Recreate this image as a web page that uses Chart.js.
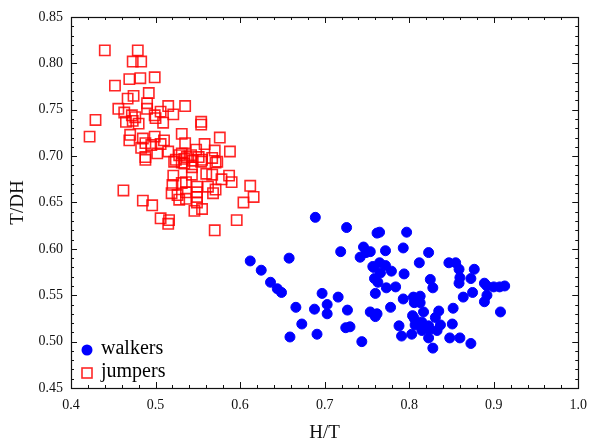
<!DOCTYPE html>
<html>
<head>
<meta charset="utf-8">
<script src="https://cdn.jsdelivr.net/npm/chart.js@4.4.1/dist/chart.umd.min.js"></script>
<style>
    body { margin: 0; background: #fff; }
    #wrap { width: 596px; height: 440px; }
</style>
</head>
<body>
<div id="wrap"><canvas id="scatterChart"></canvas></div>
<script>
// walkers (blue dots)
var walkers_x = [0.689, 0.726, 0.762, 0.765, 0.612, 0.658, 0.625, 0.636, 0.644, 0.649,
    0.719, 0.746, 0.742, 0.749, 0.754, 0.772, 0.765, 0.772, 0.758, 0.766,
    0.759, 0.763, 0.773, 0.760, 0.697, 0.716, 0.703, 0.666, 0.688, 0.703,
    0.727, 0.754, 0.762, 0.760, 0.673, 0.725, 0.730, 0.659, 0.691, 0.744,
    0.797, 0.793, 0.823, 0.812, 0.779, 0.794, 0.847, 0.855, 0.859, 0.877,
    0.860, 0.859, 0.873, 0.825, 0.828, 0.784, 0.889, 0.892, 0.900, 0.907,
    0.913, 0.864, 0.875, 0.892, 0.889, 0.793, 0.778, 0.805, 0.813, 0.806,
    0.813, 0.817, 0.835, 0.852, 0.908, 0.804, 0.806, 0.831, 0.815, 0.807,
    0.788, 0.823, 0.837, 0.851, 0.815, 0.824, 0.833, 0.791, 0.803, 0.823,
    0.848, 0.860, 0.873, 0.828, 0.757];
var walkers_y = [0.634, 0.623, 0.617, 0.618, 0.587, 0.590, 0.577, 0.564, 0.557, 0.553,
    0.597, 0.602, 0.591, 0.596, 0.597, 0.598, 0.585, 0.582, 0.580, 0.574,
    0.568, 0.564, 0.558, 0.552, 0.552, 0.548, 0.540, 0.537, 0.535, 0.530,
    0.534, 0.532, 0.530, 0.527, 0.519, 0.515, 0.516, 0.505, 0.508, 0.500,
    0.618, 0.601, 0.596, 0.585, 0.576, 0.573, 0.585, 0.585, 0.578, 0.578,
    0.569, 0.563, 0.568, 0.567, 0.558, 0.559, 0.563, 0.560, 0.559, 0.559,
    0.560, 0.548, 0.553, 0.550, 0.543, 0.546, 0.537, 0.548, 0.549, 0.542,
    0.542, 0.532, 0.533, 0.536, 0.532, 0.528, 0.525, 0.526, 0.521, 0.518,
    0.517, 0.517, 0.518, 0.519, 0.512, 0.513, 0.512, 0.506, 0.508, 0.504,
    0.504, 0.504, 0.498, 0.493, 0.581];

// jumpers (red squares)
var jumpers_x = [0.440, 0.479, 0.473, 0.483, 0.469, 0.482, 0.499, 0.452, 0.492, 0.474,
    0.467, 0.490, 0.456, 0.515, 0.535, 0.490, 0.506, 0.521, 0.463, 0.472,
    0.476, 0.499, 0.500, 0.429, 0.465, 0.473, 0.480, 0.509, 0.554, 0.554,
    0.470, 0.469, 0.485, 0.488, 0.499, 0.510, 0.506, 0.483, 0.495, 0.502,
    0.515, 0.488, 0.531, 0.535, 0.528, 0.537, 0.524, 0.534, 0.576, 0.558,
    0.570, 0.588, 0.548, 0.531, 0.542, 0.551, 0.567, 0.555, 0.544, 0.573,
    0.422, 0.488, 0.522, 0.534, 0.521, 0.462, 0.520, 0.531, 0.536, 0.519,
    0.526, 0.528, 0.536, 0.485, 0.496, 0.506, 0.516, 0.515, 0.531, 0.543,
    0.554, 0.571, 0.543, 0.560, 0.567, 0.578, 0.587, 0.590, 0.536, 0.549,
    0.562, 0.571, 0.568, 0.549, 0.549, 0.549, 0.555, 0.546, 0.612, 0.616,
    0.604, 0.596, 0.570];
var jumpers_y = [0.814, 0.814, 0.802, 0.802, 0.783, 0.784, 0.785, 0.776, 0.768, 0.765,
    0.762, 0.757, 0.751, 0.754, 0.754, 0.751, 0.748, 0.745, 0.747, 0.744,
    0.742, 0.744, 0.741, 0.739, 0.737, 0.738, 0.735, 0.736, 0.737, 0.734,
    0.723, 0.717, 0.719, 0.714, 0.721, 0.717, 0.713, 0.709, 0.712, 0.703,
    0.705, 0.699, 0.724, 0.714, 0.701, 0.699, 0.696, 0.697, 0.720, 0.713,
    0.706, 0.705, 0.707, 0.703, 0.701, 0.699, 0.698, 0.696, 0.695, 0.694,
    0.721, 0.696, 0.694, 0.692, 0.679, 0.663, 0.669, 0.671, 0.661, 0.660,
    0.658, 0.653, 0.654, 0.652, 0.647, 0.633, 0.631, 0.627, 0.693, 0.688,
    0.694, 0.693, 0.680, 0.681, 0.680, 0.675, 0.679, 0.672, 0.672, 0.667,
    0.667, 0.664, 0.660, 0.661, 0.656, 0.650, 0.643, 0.641, 0.668, 0.656,
    0.650, 0.631, 0.620];

var series_labels = ['walkers', 'jumpers'];
var x_min = 0.4, x_max = 1.0, x_step = 0.1;
var y_min = 0.45, y_max = 0.85, y_step = 0.05;

function to_points(xs, ys) {
    return xs.map((x, i) => ({ x: x, y: ys[i] }));
}

var serif = "'Liberation Serif', 'DejaVu Serif', serif";

//----------------------------
//- frame, inward ticks, legend
//----------------------------
var framePlugin = {
    id: 'framePlugin',
    afterDraw: function (chart) {
        var ctx = chart.ctx;
        var a = chart.chartArea;
        var xs = chart.scales.x;
        var ys = chart.scales.y;
        ctx.save();
        ctx.strokeStyle = '#111';
        ctx.lineWidth = 1.2;
        ctx.strokeRect(Math.round(a.left) + 0.5, Math.round(a.top) + 0.5,
            Math.round(a.right - a.left), Math.round(a.bottom - a.top));

        ctx.lineWidth = 1;
        ctx.beginPath();
        // x ticks: minor every 0.02
        for (let i = 0; i <= 30; i++) {
            var px = Math.round(xs.getPixelForValue(x_min + i * 0.02)) + 0.5;
            var len = (i % 5 === 0) ? 6 : 3;
            ctx.moveTo(px, a.bottom); ctx.lineTo(px, a.bottom - len);
            ctx.moveTo(px, a.top); ctx.lineTo(px, a.top + len);
        }
        // y ticks: minor every 0.01
        for (let i = 0; i <= 40; i++) {
            var py = Math.round(ys.getPixelForValue(y_min + i * 0.01)) + 0.5;
            var len2 = (i % 5 === 0) ? 6 : 3;
            ctx.moveTo(a.left, py); ctx.lineTo(a.left + len2, py);
            ctx.moveTo(a.right, py); ctx.lineTo(a.right - len2, py);
        }
        ctx.stroke();

        // legend in lower left corner
        var lx = a.left + 16;
        var ly = [a.bottom - 38, a.bottom - 15];
        ctx.font = '20px ' + serif;
        ctx.textBaseline = 'middle';
        ctx.fillStyle = '#000';
        chart.data.datasets.forEach(function (ds, i) {
            ctx.beginPath();
            if (ds.pointStyle === 'rect') {
                ctx.strokeStyle = ds.borderColor;
                ctx.lineWidth = ds.pointBorderWidth;
                ctx.strokeRect(lx - 5, ly[i] - 5, 10, 10);
            } else {
                ctx.fillStyle = ds.backgroundColor;
                ctx.arc(lx, ly[i], 5.5, 0, Math.PI * 2);
                ctx.fill();
            }
            ctx.fillStyle = '#000';
            ctx.fillText(series_labels[i], lx + 14, ly[i] - 1);
        });
        ctx.restore();
    }
};

var scatterCanvas = document.getElementById('scatterChart').getContext('2d');

new Chart(scatterCanvas, {
    type: 'scatter',
    data: {
        datasets: [{
            label: series_labels[0],
            data: to_points(walkers_x, walkers_y),
            pointStyle: 'circle',
            pointRadius: 5,
            pointBorderWidth: 1,
            backgroundColor: '#0000ff',
            borderColor: '#0000ff'
        }, {
            label: series_labels[1],
            data: to_points(jumpers_x, jumpers_y),
            pointStyle: 'rect',
            pointRadius: 7.3,
            pointBorderWidth: 1.6,
            backgroundColor: 'rgba(0,0,0,0)',
            borderColor: 'rgba(255,0,0,0.85)'
        }]
    },
    options: {
        responsive: true,
        maintainAspectRatio: false,
        animation: false,
        layout: { padding: { left: 0, top: 17, right: 14, bottom: 0 } },
        plugins: {
            legend: { display: false },
            tooltip: { enabled: false }
        },
        scales: {
            x: {
                type: 'linear',
                min: x_min,
                max: x_max,
                grid: { display: false, drawTicks: false },
                border: { display: false },
                ticks: {
                    stepSize: x_step,
                    padding: 9,
                    color: '#111',
                    maxRotation: 0,
                    font: { family: serif, size: 14 },
                    callback: v => v.toFixed(1)
                },
                title: {
                    display: true,
                    text: 'H/T',
                    color: '#111',
                    font: { family: serif, size: 19, lineHeight: 1 },
                    padding: { top: 0, bottom: -3 }
                },
                afterFit: function (scale) { scale.height = 52; }
            },
            y: {
                type: 'linear',
                min: y_min,
                max: y_max,
                grid: { display: false, drawTicks: false },
                border: { display: false },
                ticks: {
                    stepSize: y_step,
                    padding: 8,
                    color: '#111',
                    font: { family: serif, size: 14 },
                    callback: v => v.toFixed(2)
                },
                title: {
                    display: true,
                    text: 'T/DH',
                    color: '#111',
                    font: { family: serif, size: 19, lineHeight: 1 },
                    padding: { top: 9, bottom: 0 }
                },
                afterFit: function (scale) { scale.width = 71; }
            }
        }
    },
    plugins: [framePlugin]
});
</script>
</body>
</html>
